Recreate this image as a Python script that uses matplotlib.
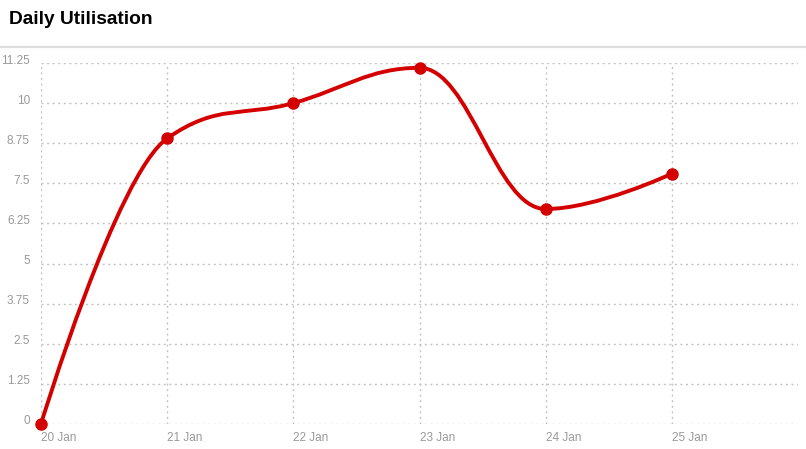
import matplotlib.pyplot as plt
import numpy as np
from matplotlib.path import Path
from matplotlib.patches import PathPatch
from matplotlib.lines import Line2D
import matplotlib.transforms as mtransforms

plt.rcParams['font.family'] = ['Liberation Sans', 'DejaVu Sans']

days = ["20 Jan", "21 Jan", "22 Jan", "23 Jan", "24 Jan", "25 Jan"]
utilisation = [0, 8.9, 10.0, 11.1, 6.7, 7.8]
y_ticks = [0, 1.25, 2.5, 3.75, 5, 6.25, 7.5, 8.75, 10, 11.25]
y_labels = ["0", "1.25", "2.5", "3.75", "5", "6.25", "7.5", "8.75", "10", "11.25"]

red = '#d40000'
grey = '#999999'


def spline_path(xs, ys, smoothing=1.5):
    # highcharts-like spline control points
    n = len(xs)
    verts = [(xs[0], ys[0])]
    codes = [Path.MOVETO]
    conts = []
    for i in range(n):
        x, y = xs[i], ys[i]
        if i == 0 or i == n - 1:
            conts.append(((x, y), (x, y)))
            continue
        lx, ly = xs[i - 1], ys[i - 1]
        nx, ny = xs[i + 1], ys[i + 1]
        d = smoothing + 1
        lcx = (smoothing * x + lx) / d
        lcy = (smoothing * y + ly) / d
        rcx = (smoothing * x + nx) / d
        rcy = (smoothing * y + ny) / d
        corr = (rcy - lcy) * (rcx - x) / (rcx - lcx) + y - rcy
        lcy += corr
        rcy += corr
        if lcy > ly and lcy > y:
            lcy = max(ly, y)
            rcy = 2 * y - lcy
        elif lcy < ly and lcy < y:
            lcy = min(ly, y)
            rcy = 2 * y - lcy
        if rcy > ny and rcy > y:
            rcy = max(ny, y)
            lcy = 2 * y - rcy
        elif rcy < ny and rcy < y:
            rcy = min(ny, y)
            lcy = 2 * y - rcy
        conts.append(((lcx, lcy), (rcx, rcy)))
    for i in range(1, n):
        verts += [conts[i - 1][1], conts[i][0], (xs[i], ys[i])]
        codes += [Path.CURVE4] * 3
    return Path(verts, codes)


fig = plt.figure(figsize=(8.06, 4.49), dpi=100)
ax = fig.add_axes([41 / 806, 25 / 449, 757 / 806, 361 / 449])

x = np.arange(len(days))
ax.set_xlim(0, 6)
ax.set_ylim(0, 11.25)

for yt in y_ticks:
    ax.axhline(yt, color='#c4c4c4', lw=1, ls=(0, (1.5, 2.5)), zorder=1)
for xt in x:
    ax.axvline(xt, color='#c4c4c4', lw=1, ls=(0, (1.5, 2.5)), zorder=1)

ax.add_patch(PathPatch(spline_path(list(x), utilisation), fill=False,
                       edgecolor=red, lw=2.8, zorder=3, clip_on=False,
                       capstyle='round'))
ax.plot(x, utilisation, 'o', color=red, ms=8, zorder=4, clip_on=False)

for s in ax.spines.values():
    s.set_visible(False)
ax.set_xticks(x)
ax.set_xticklabels(days, ha='left')
ax.set_yticks(y_ticks)
ax.set_yticklabels(y_labels)
ax.tick_params(length=0, colors=grey, labelsize=8.5)
ax.tick_params(axis='y', pad=8)
ax.tick_params(axis='x', pad=6)
for lab in ax.get_yticklabels():
    lab.set_transform(lab.get_transform() + mtransforms.ScaledTranslation(0, 4 / 100, fig.dpi_scale_trans))

fig.text(9 / 806, 1 - 19 / 449, "Daily Utilisation", fontsize=13.8, fontweight='bold',
         va='center', ha='left', color='#000000')
fig.add_artist(Line2D([0, 1], [1 - 47 / 449, 1 - 47 / 449], color='#dddddd', lw=1.6))

fig.savefig('out.png', dpi=100)
